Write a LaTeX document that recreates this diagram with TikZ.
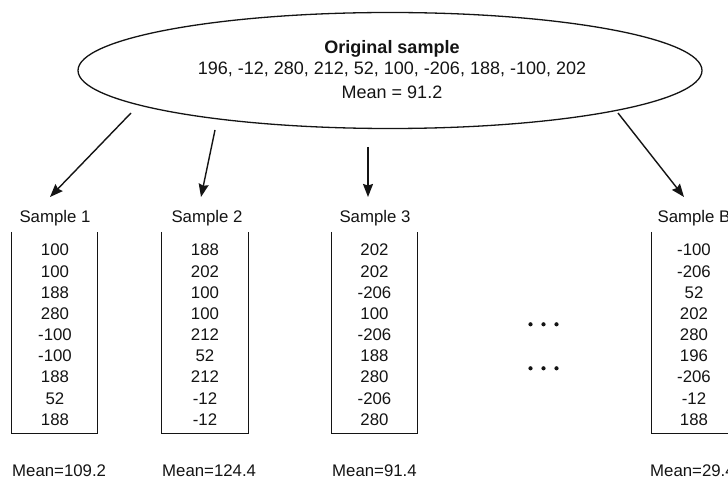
\documentclass[tikz,border=0pt]{standalone}
\usepackage{fontspec}
\setmainfont{Liberation Sans}
\usetikzlibrary{arrows.meta,shapes.geometric}
\definecolor{ink}{HTML}{141414}
\begin{document}
\begin{tikzpicture}[x=1pt,y=-1pt,
  txt/.style={inner sep=0pt, text=ink, font=\fontsize{16.8}{19}\selectfont, anchor=base},
  big/.style={inner sep=0pt, text=ink, font=\fontsize{18}{21}\selectfont, anchor=base},
  arr/.style={draw=ink, line width=1.4pt, -{Stealth[length=13pt,width=10pt,inset=1.5pt]}},
  boxline/.style={draw=ink, line width=1.3pt},
  area/.style={inner sep=0pt, minimum height=201pt},
  dot/.style={circle, fill=ink, inner sep=0pt, minimum size=4.2pt}]
\useasboundingbox (0,0) rectangle (728,478);
\clip (0,0) rectangle (728,478);
\fill[white] (0,0) rectangle (728,478);

% original sample
\node[ellipse, draw=ink, line width=1.3pt, minimum width=624pt, minimum height=116pt, inner sep=0pt] (orig) at (390,70.5) {};
\node[big, font=\fontsize{18}{21}\selectfont\bfseries] (ot) at (392,53.3) {Original sample};
\node[big] (ov) at (392,74.3) {196, -12, 280, 212, 52, 100, -206, 188, -100, 202};
\node[big] (om) at (392,98.3) {Mean = 91.2};

% arrow coordinates
\coordinate (s1) at (131,113);  \coordinate (e1) at (50,197);
\coordinate (s2) at (215,130);  \coordinate (e2) at (201,197);
\coordinate (s3) at (368,147);  \coordinate (e3) at (368,197);
\coordinate (s4) at (618,113);  \coordinate (e4) at (684,197);
\draw[arr] (s1) -- (e1);
\draw[arr] (s2) -- (e2);
\draw[arr] (s3) -- (e3);
\draw[arr] (s4) -- (e4);

% titles
\node[txt] (h1) at (55,222.7) {Sample 1};
\node[txt] (h2) at (207,222.7) {Sample 2};
\node[txt] (h3) at (375,222.7) {Sample 3};
\node[txt] (hB) at (694,222.7) {Sample B};

% boxes
\node[area, minimum width=85pt] (b1) at (54.5,332.5) {};
\node[area, minimum width=86pt] (b2) at (205,332.5) {};
\node[area, minimum width=85pt] (b3) at (374.5,332.5) {};
\node[area, minimum width=85pt] (bB) at (694.5,332.5) {};
\foreach \b in {b1,b2,b3,bB}
  \draw[boxline] (\b.north west) -- (\b.south west) -- (\b.south east) -- (\b.north east);

% values
\foreach \v [count=\i from 0] in {100,100,188,280,-100,-100,188,52,188}
  \node[txt] (v1-\i) at (55,256+21.16*\i) {\v};
\foreach \v [count=\i from 0] in {188,202,100,100,212,52,212,-12,-12}
  \node[txt] (v2-\i) at (205,256+21.16*\i) {\v};
\foreach \v [count=\i from 0] in {202,202,-206,100,-206,188,280,-206,280}
  \node[txt] (v3-\i) at (374.5,256+21.16*\i) {\v};
\foreach \v [count=\i from 0] in {-100,-206,52,202,280,196,-206,-12,188}
  \node[txt] (vB-\i) at (694,256+21.16*\i) {\v};

% means
\node[txt, anchor=base west] (m1) at (12,476) {Mean=109.2};
\node[txt, anchor=base west] (m2) at (162,476) {Mean=124.4};
\node[txt, anchor=base west] (m3) at (332,476) {Mean=91.4};
\node[txt, anchor=base west] (mB) at (650,476) {Mean=29.4};

% ellipsis dots
\node[dot] (d1) at (530.5,324.3) {};
\node[dot] (d2) at (543.5,324.3) {};
\node[dot] (d3) at (556.5,324.3) {};
\node[dot] (d4) at (530.5,368.3) {};
\node[dot] (d5) at (543.5,368.3) {};
\node[dot] (d6) at (556.5,368.3) {};
\end{tikzpicture}
\end{document}
